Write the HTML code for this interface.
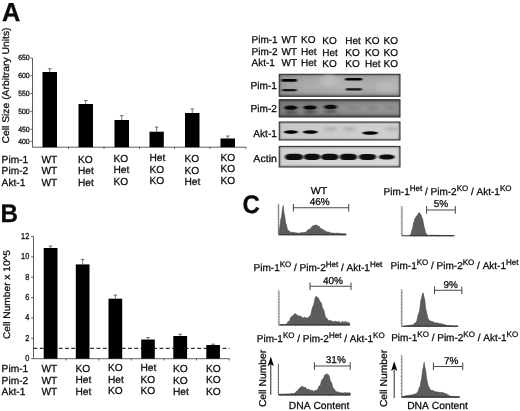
<!DOCTYPE html>
<html><head><meta charset="utf-8"><title>Figure</title>
<style>html,body{margin:0;padding:0;background:#fff}svg{display:block}text{font-family:"Liberation Sans",Arial,sans-serif;fill:#0a0a0a;stroke:#0a0a0a;stroke-width:0.26px;font-kerning:none;text-rendering:geometricPrecision}</style>
</head><body>
<svg width="520" height="411" viewBox="0 0 520 411">
<defs>
<filter id="b1" x="-20%" y="-100%" width="140%" height="300%"><feGaussianBlur stdDeviation="0.9 0.6"/></filter>
<filter id="b2" x="-20%" y="-100%" width="140%" height="300%"><feGaussianBlur stdDeviation="1.4 1.1"/></filter>
<filter id="b3" x="-20%" y="-100%" width="140%" height="300%"><feGaussianBlur stdDeviation="2.2 1.6"/></filter>
<filter id="soft"><feGaussianBlur stdDeviation="0.35"/></filter>
<linearGradient id="g1" x1="0" x2="1" y1="0" y2="0"><stop offset="0" stop-color="#959595"/><stop offset="0.2" stop-color="#a6a6a6"/><stop offset="0.5" stop-color="#b2b2b2"/><stop offset="0.75" stop-color="#aaaaaa"/><stop offset="1" stop-color="#b4b4b4"/></linearGradient>
<linearGradient id="g2" x1="0" x2="1" y1="0" y2="0"><stop offset="0" stop-color="#808080"/><stop offset="0.5" stop-color="#8c8c8c"/><stop offset="1" stop-color="#949494"/></linearGradient>
<linearGradient id="g3" x1="0" x2="1" y1="0" y2="0"><stop offset="0" stop-color="#cdcdcd"/><stop offset="0.5" stop-color="#d0d0d0"/><stop offset="1" stop-color="#d4d4d4"/></linearGradient>
<linearGradient id="g4" x1="0" x2="1" y1="0" y2="0"><stop offset="0" stop-color="#d6d6d6"/><stop offset="0.5" stop-color="#dadada"/><stop offset="1" stop-color="#dcdcdc"/></linearGradient>
<filter id="b1b" x="-20%" y="-100%" width="140%" height="300%"><feGaussianBlur stdDeviation="1.1 0.8"/></filter>
<linearGradient id="v1" x1="0" x2="0" y1="0" y2="1"><stop offset="0" stop-color="#333" stop-opacity="0.45"/><stop offset="0.12" stop-color="#555" stop-opacity="0.1"/><stop offset="0.5" stop-color="#fff" stop-opacity="0.05"/><stop offset="0.85" stop-color="#555" stop-opacity="0.12"/><stop offset="1" stop-color="#222" stop-opacity="0.5"/></linearGradient>
<linearGradient id="v2" x1="0" x2="0" y1="0" y2="1"><stop offset="0" stop-color="#111" stop-opacity="0.6"/><stop offset="0.18" stop-color="#333" stop-opacity="0.12"/><stop offset="0.5" stop-color="#fff" stop-opacity="0.03"/><stop offset="0.82" stop-color="#333" stop-opacity="0.15"/><stop offset="1" stop-color="#111" stop-opacity="0.6"/></linearGradient>
<linearGradient id="v3" x1="0" x2="0" y1="0" y2="1"><stop offset="0" stop-color="#444" stop-opacity="0.5"/><stop offset="0.14" stop-color="#777" stop-opacity="0.05"/><stop offset="0.86" stop-color="#777" stop-opacity="0.05"/><stop offset="1" stop-color="#444" stop-opacity="0.5"/></linearGradient>
<linearGradient id="hz" x1="0" x2="1" y1="0" y2="0"><stop offset="0" stop-color="#333" stop-opacity="0.45"/><stop offset="0.025" stop-color="#555" stop-opacity="0"/><stop offset="0.975" stop-color="#555" stop-opacity="0"/><stop offset="1" stop-color="#333" stop-opacity="0.45"/></linearGradient>
</defs>
<rect width="520" height="411" fill="#fff"/>
<text transform="translate(1.9,20.9) scale(0.975,1)" font-size="26" font-weight="bold" fill="#000" stroke="#000" stroke-width="0.5">A</text>
<text transform="translate(0.5,222.4) scale(0.945,1)" font-size="25.6" font-weight="bold" fill="#000" stroke="#000" stroke-width="0.5">B</text>
<text transform="translate(242.5,213.1) scale(0.95,1)" font-size="25.3" font-weight="bold" fill="#000" stroke="#000" stroke-width="0.5">C</text>
<g id="panelA">
<text transform="translate(9.1,143.5) rotate(-90) scale(1.067,1)" font-size="9.7">Cell Size (Arbitrary Units)</text>
<path d="M32.5 58V147.2H246" fill="none" stroke="#2a2a2a" stroke-width="0.75"/>
<path d="M30.3 58H32.5" stroke="#222" stroke-width="0.7"/>
<text transform="translate(29.7,60.3) scale(0.92,1)" font-size="7.5" text-anchor="end" fill="#222">650</text>
<path d="M30.3 75.7H32.5" stroke="#222" stroke-width="0.7"/>
<text transform="translate(29.7,78.0) scale(0.92,1)" font-size="7.5" text-anchor="end" fill="#222">600</text>
<path d="M30.3 93.5H32.5" stroke="#222" stroke-width="0.7"/>
<text transform="translate(29.7,95.8) scale(0.92,1)" font-size="7.5" text-anchor="end" fill="#222">550</text>
<path d="M30.3 111.3H32.5" stroke="#222" stroke-width="0.7"/>
<text transform="translate(29.7,113.6) scale(0.92,1)" font-size="7.5" text-anchor="end" fill="#222">500</text>
<path d="M30.3 129.2H32.5" stroke="#222" stroke-width="0.7"/>
<text transform="translate(29.7,131.5) scale(0.92,1)" font-size="7.5" text-anchor="end" fill="#222">450</text>
<path d="M30.3 141.3H32.5" stroke="#222" stroke-width="0.7"/>
<text transform="translate(29.7,143.6) scale(0.92,1)" font-size="7.5" text-anchor="end" fill="#222">400</text>
<path d="M68.5 147.2v1.8" stroke="#222" stroke-width="0.7"/>
<path d="M104 147.2v1.8" stroke="#222" stroke-width="0.7"/>
<path d="M139.5 147.2v1.8" stroke="#222" stroke-width="0.7"/>
<path d="M174.5 147.2v1.8" stroke="#222" stroke-width="0.7"/>
<path d="M210 147.2v1.8" stroke="#222" stroke-width="0.7"/>
<path d="M246 147.2v1.8" stroke="#222" stroke-width="0.7"/>
<rect x="42.5" y="72" width="14.5" height="75.19999999999999" fill="#000"/>
<path d="M49.75 72V68.7M47.95 68.7H51.55" stroke="#444" stroke-width="0.75" fill="none"/>
<rect x="78.5" y="104" width="14.5" height="43.19999999999999" fill="#000"/>
<path d="M85.75 104V100.5M83.95 100.5H87.55" stroke="#444" stroke-width="0.75" fill="none"/>
<rect x="114.5" y="120" width="14.5" height="27.19999999999999" fill="#000"/>
<path d="M121.75 120V115.7M119.95 115.7H123.55" stroke="#444" stroke-width="0.75" fill="none"/>
<rect x="149.5" y="131.7" width="14.300000000000011" height="15.5" fill="#000"/>
<path d="M156.65 131.7V127M154.85 127H158.45000000000002" stroke="#444" stroke-width="0.75" fill="none"/>
<rect x="185" y="113" width="14.5" height="34.19999999999999" fill="#000"/>
<path d="M192.25 113V109M190.45 109H194.05" stroke="#444" stroke-width="0.75" fill="none"/>
<rect x="220.5" y="138.5" width="14.5" height="8.699999999999989" fill="#000"/>
<path d="M227.75 138.5V136M225.95 136H229.55" stroke="#444" stroke-width="0.75" fill="none"/>
</g>
<g id="labelsA">
<text x="1.6" y="162.5" font-size="10.2">Pim-1</text>
<text x="1.6" y="174" font-size="10.2">Pim-2</text>
<text x="1.6" y="185.6" font-size="10.2">Akt-1</text>
<text x="41.5" y="162.5" font-size="10.2">WT</text>
<text x="41.5" y="174" font-size="10.2">WT</text>
<text x="41.5" y="185.6" font-size="10.2">WT</text>
<text x="78" y="162.5" font-size="10.2">KO</text>
<text x="78" y="174" font-size="10.2">Het</text>
<text x="78" y="185.6" font-size="10.2">Het</text>
<text x="113.5" y="161.5" font-size="10.2">KO</text>
<text x="113.5" y="173" font-size="10.2">Het</text>
<text x="113.5" y="184.6" font-size="10.2">KO</text>
<text x="149.5" y="161.0" font-size="10.2">Het</text>
<text x="149.5" y="172.5" font-size="10.2">KO</text>
<text x="149.5" y="184.1" font-size="10.2">KO</text>
<text x="184.5" y="162.0" font-size="10.2">KO</text>
<text x="184.5" y="173.5" font-size="10.2">KO</text>
<text x="184.5" y="185.1" font-size="10.2">Het</text>
<text x="220.5" y="160.5" font-size="10.2">KO</text>
<text x="220.5" y="172" font-size="10.2">KO</text>
<text x="220.5" y="183.6" font-size="10.2">KO</text>
</g>
<g id="panelB">
<text transform="translate(10.1,339) rotate(-90) scale(1.06,1)" font-size="9.6">Cell Number x 10^5</text>
<path d="M33.5 236.5V358.7H229.5" fill="none" stroke="#2a2a2a" stroke-width="0.75"/>
<path d="M31.1 236.5H33.5" stroke="#222" stroke-width="0.7"/>
<text transform="translate(29.3,238.9) scale(0.86,1)" font-size="8.6" text-anchor="end" fill="#222">12</text>
<path d="M31.1 256.8666666666667H33.5" stroke="#222" stroke-width="0.7"/>
<text transform="translate(29.3,259.3) scale(0.86,1)" font-size="8.6" text-anchor="end" fill="#222">10</text>
<path d="M31.1 277.23333333333335H33.5" stroke="#222" stroke-width="0.7"/>
<text transform="translate(29.3,279.6) scale(0.86,1)" font-size="8.6" text-anchor="end" fill="#222">8</text>
<path d="M31.1 297.6H33.5" stroke="#222" stroke-width="0.7"/>
<text transform="translate(29.3,300.0) scale(0.86,1)" font-size="8.6" text-anchor="end" fill="#222">6</text>
<path d="M31.1 317.96666666666664H33.5" stroke="#222" stroke-width="0.7"/>
<text transform="translate(29.3,320.4) scale(0.86,1)" font-size="8.6" text-anchor="end" fill="#222">4</text>
<path d="M31.1 338.3333333333333H33.5" stroke="#222" stroke-width="0.7"/>
<text transform="translate(29.3,340.7) scale(0.86,1)" font-size="8.6" text-anchor="end" fill="#222">2</text>
<path d="M31.1 358.7H33.5" stroke="#222" stroke-width="0.7"/>
<text transform="translate(29.3,361.1) scale(0.86,1)" font-size="8.6" text-anchor="end" fill="#222">0</text>
<path d="M66.2 358.7v1.8" stroke="#222" stroke-width="0.7"/>
<path d="M98.8 358.7v1.8" stroke="#222" stroke-width="0.7"/>
<path d="M131.3 358.7v1.8" stroke="#222" stroke-width="0.7"/>
<path d="M164 358.7v1.8" stroke="#222" stroke-width="0.7"/>
<path d="M196.5 358.7v1.8" stroke="#222" stroke-width="0.7"/>
<path d="M229.3 358.7v1.8" stroke="#222" stroke-width="0.7"/>
<rect x="43.7" y="248" width="13.8" height="110.7" fill="#000"/>
<path d="M50.6 248V246M48.800000000000004 246H52.4" stroke="#444" stroke-width="0.75" fill="none"/>
<rect x="75.8" y="264.4" width="13.7" height="94.3" fill="#000"/>
<path d="M82.65 264.4V259.4M80.85000000000001 259.4H84.45" stroke="#444" stroke-width="0.75" fill="none"/>
<rect x="108.5" y="298.7" width="13.7" height="60.0" fill="#000"/>
<path d="M115.35 298.7V295M113.55 295H117.14999999999999" stroke="#444" stroke-width="0.75" fill="none"/>
<rect x="141.2" y="339.5" width="13.6" height="19.2" fill="#000"/>
<path d="M148.0 339.5V337.5M146.2 337.5H149.8" stroke="#444" stroke-width="0.75" fill="none"/>
<rect x="173.3" y="336" width="13.8" height="22.7" fill="#000"/>
<path d="M180.2 336V334.2M178.39999999999998 334.2H182.0" stroke="#444" stroke-width="0.75" fill="none"/>
<rect x="206.3" y="345" width="13.6" height="13.7" fill="#000"/>
<path d="M213.10000000000002 345V344.2M211.3 344.2H214.90000000000003" stroke="#444" stroke-width="0.75" fill="none"/>
<path d="M33.5 348.3H229.5" stroke="#000" stroke-width="1" stroke-dasharray="3.9 2.4" fill="none"/>
</g>
<g id="labelsB">
<text x="1.6" y="372" font-size="10.2">Pim-1</text>
<text x="1.6" y="383.6" font-size="10.2">Pim-2</text>
<text x="1.6" y="395.2" font-size="10.2">Akt-1</text>
<text x="41.5" y="372" font-size="10.2">WT</text>
<text x="41.5" y="383.6" font-size="10.2">WT</text>
<text x="41.5" y="395.2" font-size="10.2">WT</text>
<text x="75.5" y="371.5" font-size="10.2">KO</text>
<text x="75.5" y="383.1" font-size="10.2">Het</text>
<text x="75.5" y="394.7" font-size="10.2">Het</text>
<text x="108" y="371" font-size="10.2">KO</text>
<text x="108" y="382.6" font-size="10.2">Het</text>
<text x="108" y="394.2" font-size="10.2">KO</text>
<text x="140.5" y="371" font-size="10.2">Het</text>
<text x="140.5" y="382.6" font-size="10.2">KO</text>
<text x="140.5" y="394.2" font-size="10.2">KO</text>
<text x="173" y="372" font-size="10.2">KO</text>
<text x="173" y="383.6" font-size="10.2">KO</text>
<text x="173" y="395.2" font-size="10.2">Het</text>
<text x="206" y="371.5" font-size="10.2">KO</text>
<text x="206" y="383.1" font-size="10.2">KO</text>
<text x="206" y="394.7" font-size="10.2">KO</text>
</g>
<g id="blot">
<text x="251.5" y="42.8" font-size="10">Pim-1</text>
<text x="251.5" y="54.5" font-size="10">Pim-2</text>
<text x="251.5" y="65.8" font-size="10">Akt-1</text>
<text x="281.5" y="42.8" font-size="10">WT</text>
<text x="281.5" y="54.5" font-size="10">WT</text>
<text x="281.5" y="65.8" font-size="10">WT</text>
<text x="301" y="42.8" font-size="10">KO</text>
<text x="301" y="54.5" font-size="10">Het</text>
<text x="301" y="65.8" font-size="10">Het</text>
<text x="322.3" y="44.3" font-size="10">KO</text>
<text x="322.3" y="56.0" font-size="10">Het</text>
<text x="322.3" y="67.3" font-size="10">KO</text>
<text x="345.3" y="44.1" font-size="10">Het</text>
<text x="345.3" y="55.8" font-size="10">KO</text>
<text x="345.3" y="67.1" font-size="10">KO</text>
<text x="365" y="44.1" font-size="10">KO</text>
<text x="365" y="55.8" font-size="10">KO</text>
<text x="365" y="67.1" font-size="10">Het</text>
<text x="383.6" y="44.1" font-size="10">KO</text>
<text x="383.6" y="55.8" font-size="10">KO</text>
<text x="383.6" y="67.1" font-size="10">KO</text>
<rect x="279.2" y="74.3" width="120.8" height="22.0" fill="url(#g1)"/>
<rect x="279.2" y="74.3" width="120.8" height="22.0" fill="url(#v1)"/>
<rect x="279.2" y="74.3" width="120.8" height="22.0" fill="url(#hz)"/>
<rect x="279.2" y="74.3" width="120.8" height="22.0" fill="none" stroke="#2a2a2a" stroke-width="1"/>
<text transform="translate(276.9,89.1) scale(1.0,1)" font-size="10.1" text-anchor="end">Pim-1</text>
<rect x="279.2" y="99.7" width="120.8" height="17.3" fill="url(#g2)"/>
<rect x="279.2" y="99.7" width="120.8" height="17.3" fill="url(#v2)"/>
<rect x="279.2" y="99.7" width="120.8" height="17.3" fill="url(#hz)"/>
<rect x="279.2" y="99.7" width="120.8" height="17.3" fill="none" stroke="#2a2a2a" stroke-width="1"/>
<text transform="translate(276.9,112.0) scale(1.0,1)" font-size="10.1" text-anchor="end">Pim-2</text>
<rect x="279.2" y="122" width="120.8" height="18.0" fill="url(#g3)"/>
<rect x="279.2" y="122" width="120.8" height="18.0" fill="url(#v3)"/>
<rect x="279.2" y="122" width="120.8" height="18.0" fill="url(#hz)"/>
<rect x="279.2" y="122" width="120.8" height="18.0" fill="none" stroke="#2a2a2a" stroke-width="1"/>
<text transform="translate(276.9,136.7) scale(1.0,1)" font-size="10.1" text-anchor="end">Akt-1</text>
<rect x="279.2" y="146.4" width="120.8" height="20.6" fill="url(#g4)"/>
<rect x="279.2" y="146.4" width="120.8" height="20.6" fill="url(#v3)"/>
<rect x="279.2" y="146.4" width="120.8" height="20.6" fill="url(#hz)"/>
<rect x="279.2" y="146.4" width="120.8" height="20.6" fill="none" stroke="#2a2a2a" stroke-width="1"/>
<text transform="translate(276.9,161.8) scale(1.05,1)" font-size="10.1" text-anchor="end">Actin</text>
<ellipse cx="329" cy="80" rx="8" ry="6" fill="#c4c4c4" opacity="0.6" filter="url(#b3)"/>
<ellipse cx="385" cy="88" rx="9" ry="5" fill="#c0c0c0" opacity="0.5" filter="url(#b3)"/>
<rect x="281.45" y="79.10000000000001" width="15.5" height="2.6" rx="1.3" fill="#050505" filter="url(#b1)"/>
<rect x="282.15" y="89.05" width="14.5" height="2.3" rx="1.1" fill="#141414" filter="url(#b1)"/>
<rect x="345.2" y="77.9" width="17" height="2.6" rx="1.3" fill="#050505" filter="url(#b1)"/>
<rect x="345.9" y="88.25" width="16" height="2.3" rx="1.1" fill="#141414" filter="url(#b1)"/>
<ellipse cx="290.8" cy="107.7" rx="8.5" ry="3.4" fill="#444" opacity="0.4" filter="url(#b3)"/>
<ellipse cx="290.8" cy="107.7" rx="6.6" ry="2.1" fill="#000" opacity="0.95" filter="url(#b1)"/>
<ellipse cx="290.8" cy="112.3" rx="6.5" ry="1.3" fill="#222" opacity="0.57" filter="url(#b2)"/>
<ellipse cx="310" cy="107.5" rx="8.5" ry="3.4" fill="#444" opacity="0.4" filter="url(#b3)"/>
<ellipse cx="310" cy="107.5" rx="6.6" ry="2.1" fill="#000" opacity="1" filter="url(#b1)"/>
<ellipse cx="310" cy="112.1" rx="6.5" ry="1.3" fill="#222" opacity="0.60" filter="url(#b2)"/>
<ellipse cx="330.5" cy="106.9" rx="8.5" ry="3.4" fill="#444" opacity="0.4" filter="url(#b3)"/>
<ellipse cx="330.5" cy="106.9" rx="6.6" ry="2.1" fill="#000" opacity="0.9" filter="url(#b1)"/>
<ellipse cx="330.5" cy="111.5" rx="6.5" ry="1.3" fill="#222" opacity="0.54" filter="url(#b2)"/>
<ellipse cx="353" cy="108" rx="6" ry="1.6" fill="#555" opacity="0.3" filter="url(#b3)"/>
<ellipse cx="372.5" cy="108" rx="6" ry="1.6" fill="#555" opacity="0.3" filter="url(#b3)"/>
<ellipse cx="391" cy="108" rx="6" ry="1.6" fill="#555" opacity="0.3" filter="url(#b3)"/>
<ellipse cx="290.9" cy="132" rx="7" ry="1.7" fill="#050505" filter="url(#b1)"/>
<ellipse cx="310.3" cy="132" rx="7.4" ry="1.7" fill="#050505" filter="url(#b1)"/>
<ellipse cx="370.2" cy="133" rx="7.8" ry="1.7" fill="#050505" filter="url(#b1)"/>
<ellipse cx="331" cy="129" rx="6.5" ry="1.8" fill="#888" opacity="0.45" filter="url(#b3)"/>
<ellipse cx="349.5" cy="129" rx="6.5" ry="1.8" fill="#888" opacity="0.45" filter="url(#b3)"/>
<ellipse cx="392" cy="129" rx="6.5" ry="1.8" fill="#888" opacity="0.45" filter="url(#b3)"/>
<rect x="284.8" y="153.70" width="18.4" height="6.4" rx="5.5" ry="3.2" fill="#080808" filter="url(#b1)"/>
<rect x="303.6" y="153.80" width="17.0" height="6.2" rx="5.5" ry="3.1" fill="#080808" filter="url(#b1)"/>
<rect x="321" y="153.70" width="17.6" height="6.4" rx="5.5" ry="3.2" fill="#080808" filter="url(#b1)"/>
<rect x="339.6" y="153.70" width="17.6" height="6.4" rx="5.5" ry="3.2" fill="#080808" filter="url(#b1)"/>
<rect x="358.8" y="153.90" width="17.4" height="6.0" rx="5.5" ry="3.0" fill="#080808" filter="url(#b1)"/>
<rect x="378.8" y="154.40" width="15.8" height="5.0" rx="5.5" ry="2.5" fill="#080808" filter="url(#b1)"/>
</g>
<g id="panelC">
<text transform="translate(319,193.6) scale(1.06,1)" font-size="10" text-anchor="middle">WT</text>
<path d="M293.4 203.89999999999998V211.5M348.7 203.89999999999998V211.5M293.4 207.7H348.7" stroke="#4a4a4a" stroke-width="1.05" fill="none"/>
<text x="319.7" y="204.5" font-size="10" text-anchor="middle">46%</text>
<path d="M279.2 234.8 L279.2 231.2 L280.0 225.6 L280.8 219.3 L281.6 216.4 L282.4 209.2 L283.2 205.4 L284.0 212.9 L284.8 216.4 L285.6 222.9 L286.4 224.7 L287.2 228.5 L288.0 230.7 L288.8 230.7 L289.6 231.1 L290.4 232.4 L291.2 232.5 L292.0 232.2 L292.8 232.1 L293.6 232.5 L294.4 232.7 L295.2 232.4 L296.0 233.2 L296.8 232.7 L297.6 233.1 L298.4 233.2 L299.2 233.2 L300.0 233.0 L300.8 232.6 L301.6 232.9 L302.4 232.5 L303.2 232.4 L304.0 232.6 L304.8 232.3 L305.6 232.2 L306.4 231.5 L307.2 230.7 L308.0 229.6 L308.8 229.6 L309.6 229.5 L310.4 228.4 L311.2 227.5 L312.0 226.7 L312.8 225.7 L313.6 225.7 L314.4 225.7 L315.2 225.0 L316.0 225.1 L316.8 225.2 L317.6 225.7 L318.4 226.3 L319.2 226.2 L320.0 227.9 L320.8 228.4 L321.6 228.7 L322.4 229.4 L323.2 229.4 L324.0 230.5 L324.8 230.6 L325.6 231.2 L326.4 231.8 L327.2 231.7 L328.0 232.3 L328.8 232.1 L329.6 232.4 L330.4 232.7 L331.2 233.0 L332.0 232.9 L332.8 233.0 L333.6 233.2 L334.4 233.1 L335.2 233.5 L336.0 233.2 L336.8 233.2 L337.6 233.1 L338.4 233.2 L339.2 233.5 L340.0 233.5 L340.8 233.4 L341.6 233.7 L342.4 233.5 L343.2 233.7 L344.0 233.7 L344.8 233.8 L345.6 233.5 L346.0 234.8Z" fill="#5c5c5c" stroke="#3a3a3a" stroke-width="0.5" stroke-linejoin="round"/>
<path d="M278.7 204.2V234.8" stroke="#505050" stroke-width="0.8" fill="none"/>
<path d="M278.3 234.8H346.3" stroke="#2e2e2e" stroke-width="1.1" fill="none"/>
<path d="M277.3 204.2h1.4" stroke="#555" stroke-width="0.45"/>
<path d="M277.3 206.8h1.4" stroke="#555" stroke-width="0.45"/>
<path d="M277.3 209.3h1.4" stroke="#555" stroke-width="0.45"/>
<path d="M277.3 211.8h1.4" stroke="#555" stroke-width="0.45"/>
<path d="M277.3 214.4h1.4" stroke="#555" stroke-width="0.45"/>
<path d="M277.3 216.9h1.4" stroke="#555" stroke-width="0.45"/>
<path d="M277.3 219.5h1.4" stroke="#555" stroke-width="0.45"/>
<path d="M277.3 222.1h1.4" stroke="#555" stroke-width="0.45"/>
<path d="M277.3 224.6h1.4" stroke="#555" stroke-width="0.45"/>
<path d="M277.3 227.2h1.4" stroke="#555" stroke-width="0.45"/>
<path d="M277.3 229.7h1.4" stroke="#555" stroke-width="0.45"/>
<path d="M277.3 232.2h1.4" stroke="#555" stroke-width="0.45"/>
<path d="M294.4 234.8v1.2" stroke="#555" stroke-width="0.5"/>
<path d="M310.1 234.8v1.2" stroke="#555" stroke-width="0.5"/>
<path d="M325.9 234.8v1.2" stroke="#555" stroke-width="0.5"/>
<path d="M341.6 234.8v1.2" stroke="#555" stroke-width="0.5"/>
<text x="383.6" y="195.1" font-size="10.0">Pim-1<tspan dy="-4.0" font-size="8.00">Het</tspan><tspan dy="4.0"> / Pim-2</tspan><tspan dy="-4.0" font-size="8.00">KO</tspan><tspan dy="4.0"> / Akt-1</tspan><tspan dy="-4.0" font-size="8.00">KO</tspan></text>
<path d="M426.6 206.1V213.70000000000002M455.3 206.1V213.70000000000002M426.6 209.9H455.3" stroke="#4a4a4a" stroke-width="1.05" fill="none"/>
<text x="441" y="206.8" font-size="10" text-anchor="middle">5%</text>
<path d="M409.5 235.8 L409.5 235.6 L410.3 234.8 L411.1 234.0 L411.9 229.9 L412.7 228.2 L413.5 223.1 L414.3 221.1 L415.1 218.2 L415.9 217.3 L416.7 215.8 L417.5 215.1 L418.3 213.8 L419.1 212.4 L419.9 213.2 L420.7 214.3 L421.5 216.5 L422.3 218.2 L423.1 221.4 L423.9 226.1 L424.7 228.9 L425.5 232.4 L426.3 233.8 L427.1 235.2 L427.9 235.2 L428.7 235.2 L429.5 235.2 L430.3 235.2 L431.1 235.2 L431.9 235.2 L432.7 235.2 L433.5 235.2 L434.3 235.3 L435.1 235.2 L435.9 235.2 L436.7 235.2 L437.5 235.3 L438.3 235.3 L439.1 235.3 L439.9 235.4 L440.7 235.3 L441.5 235.4 L442.3 235.4 L443.1 235.4 L443.9 235.4 L444.7 235.4 L445.5 235.5 L446.3 235.5 L447.1 235.5 L447.9 235.5 L448.7 235.5 L449.5 235.5 L450.3 235.5 L451.1 235.5 L451.9 235.5 L452.7 235.5 L453.5 235.5 L454.0 235.8Z" fill="#5c5c5c" stroke="#3a3a3a" stroke-width="0.5" stroke-linejoin="round"/>
<path d="M402 206.5V235.8" stroke="#505050" stroke-width="0.8" fill="none"/>
<path d="M401.6 235.8H454.5" stroke="#2e2e2e" stroke-width="1.1" fill="none"/>
<path d="M400.6 206.5h1.4" stroke="#555" stroke-width="0.45"/>
<path d="M400.6 208.9h1.4" stroke="#555" stroke-width="0.45"/>
<path d="M400.6 211.4h1.4" stroke="#555" stroke-width="0.45"/>
<path d="M400.6 213.8h1.4" stroke="#555" stroke-width="0.45"/>
<path d="M400.6 216.3h1.4" stroke="#555" stroke-width="0.45"/>
<path d="M400.6 218.7h1.4" stroke="#555" stroke-width="0.45"/>
<path d="M400.6 221.2h1.4" stroke="#555" stroke-width="0.45"/>
<path d="M400.6 223.6h1.4" stroke="#555" stroke-width="0.45"/>
<path d="M400.6 226.0h1.4" stroke="#555" stroke-width="0.45"/>
<path d="M400.6 228.5h1.4" stroke="#555" stroke-width="0.45"/>
<path d="M400.6 230.9h1.4" stroke="#555" stroke-width="0.45"/>
<path d="M400.6 233.4h1.4" stroke="#555" stroke-width="0.45"/>
<path d="M414.2 235.8v1.2" stroke="#555" stroke-width="0.5"/>
<path d="M426.4 235.8v1.2" stroke="#555" stroke-width="0.5"/>
<path d="M438.6 235.8v1.2" stroke="#555" stroke-width="0.5"/>
<path d="M450.8 235.8v1.2" stroke="#555" stroke-width="0.5"/>
<text x="253.6" y="270.6" font-size="10.0">Pim-1<tspan dy="-4.0" font-size="8.00">KO</tspan><tspan dy="4.0"> / Pim-2</tspan><tspan dy="-4.0" font-size="8.00">Het</tspan><tspan dy="4.0"> / Akt-1</tspan><tspan dy="-4.0" font-size="8.00">Het</tspan></text>
<path d="M310 282.5V290.1M351 282.5V290.1M310 286.3H351" stroke="#4a4a4a" stroke-width="1.05" fill="none"/>
<text x="333" y="284.3" font-size="10" text-anchor="middle">40%</text>
<path d="M280.0 325.0 L280.0 324.6 L280.8 324.7 L281.6 324.5 L282.4 324.4 L283.2 324.4 L284.0 324.4 L284.8 324.5 L285.6 324.4 L286.4 324.2 L287.2 323.3 L288.0 321.4 L288.8 321.5 L289.6 321.1 L290.4 318.1 L291.2 316.8 L292.0 316.5 L292.8 315.5 L293.6 315.3 L294.4 314.0 L295.2 313.5 L296.0 314.1 L296.8 314.8 L297.6 315.8 L298.4 315.7 L299.2 316.3 L300.0 315.8 L300.8 316.6 L301.6 316.7 L302.4 317.7 L303.2 317.9 L304.0 317.2 L304.8 317.2 L305.6 317.7 L306.4 318.0 L307.2 318.0 L308.0 317.5 L308.8 317.3 L309.6 316.1 L310.4 315.7 L311.2 313.1 L312.0 309.3 L312.8 306.4 L313.6 305.3 L314.4 301.5 L315.2 297.5 L316.0 296.6 L316.8 296.6 L317.6 297.6 L318.4 298.0 L319.2 299.9 L320.0 301.5 L320.8 302.3 L321.6 303.9 L322.4 307.9 L323.2 308.9 L324.0 310.8 L324.8 314.4 L325.6 317.6 L326.4 317.9 L327.2 318.6 L328.0 320.7 L328.8 320.5 L329.6 320.2 L330.4 320.5 L331.2 320.7 L332.0 321.2 L332.8 321.8 L333.6 321.1 L334.4 321.9 L335.2 321.3 L336.0 321.1 L336.8 322.0 L337.6 322.0 L338.4 321.2 L339.2 321.6 L340.0 322.4 L340.8 322.5 L341.6 322.4 L342.4 321.4 L343.2 321.6 L344.0 322.5 L344.8 321.6 L345.6 321.4 L346.4 321.9 L347.2 322.4 L348.0 322.2 L348.8 322.7 L349.6 322.9 L349.8 325.0Z" fill="#5c5c5c" stroke="#3a3a3a" stroke-width="0.5" stroke-linejoin="round"/>
<path d="M279 290.8V325" stroke="#505050" stroke-width="0.8" fill="none"/>
<path d="M278.6 325H350" stroke="#2e2e2e" stroke-width="1.1" fill="none"/>
<path d="M277.6 290.8h1.4" stroke="#555" stroke-width="0.45"/>
<path d="M277.6 293.7h1.4" stroke="#555" stroke-width="0.45"/>
<path d="M277.6 296.5h1.4" stroke="#555" stroke-width="0.45"/>
<path d="M277.6 299.4h1.4" stroke="#555" stroke-width="0.45"/>
<path d="M277.6 302.2h1.4" stroke="#555" stroke-width="0.45"/>
<path d="M277.6 305.1h1.4" stroke="#555" stroke-width="0.45"/>
<path d="M277.6 307.9h1.4" stroke="#555" stroke-width="0.45"/>
<path d="M277.6 310.8h1.4" stroke="#555" stroke-width="0.45"/>
<path d="M277.6 313.6h1.4" stroke="#555" stroke-width="0.45"/>
<path d="M277.6 316.4h1.4" stroke="#555" stroke-width="0.45"/>
<path d="M277.6 319.3h1.4" stroke="#555" stroke-width="0.45"/>
<path d="M277.6 322.1h1.4" stroke="#555" stroke-width="0.45"/>
<path d="M295.5 325v1.2" stroke="#555" stroke-width="0.5"/>
<path d="M312.0 325v1.2" stroke="#555" stroke-width="0.5"/>
<path d="M328.5 325v1.2" stroke="#555" stroke-width="0.5"/>
<path d="M345.0 325v1.2" stroke="#555" stroke-width="0.5"/>
<text x="390.6" y="268.8" font-size="10.0">Pim-1<tspan dy="-4.0" font-size="8.00">KO</tspan><tspan dy="4.0"> / Pim-2</tspan><tspan dy="-4.0" font-size="8.00">KO</tspan><tspan dy="4.0"> / Akt-1</tspan><tspan dy="-4.0" font-size="8.00">Het</tspan></text>
<path d="M434.5 286.4V294.0M461.8 286.4V294.0M434.5 290.2H461.8" stroke="#4a4a4a" stroke-width="1.05" fill="none"/>
<text x="450.8" y="287.6" font-size="10" text-anchor="middle">9%</text>
<path d="M404.0 326.2 L404.0 326.0 L404.8 326.0 L405.6 325.9 L406.4 325.7 L407.2 325.7 L408.0 325.4 L408.8 325.3 L409.6 325.3 L410.4 325.2 L411.2 325.1 L412.0 325.1 L412.8 324.7 L413.6 324.3 L414.4 323.4 L415.2 323.1 L416.0 322.1 L416.8 321.0 L417.6 317.3 L418.4 313.9 L419.2 312.4 L420.0 307.8 L420.8 300.5 L421.6 297.9 L422.4 293.9 L423.2 292.8 L424.0 296.9 L424.8 299.8 L425.6 308.5 L426.4 311.3 L427.2 315.2 L428.0 318.8 L428.8 319.4 L429.6 320.5 L430.4 321.0 L431.2 321.3 L432.0 321.5 L432.8 321.8 L433.6 321.9 L434.4 322.8 L435.2 322.7 L436.0 323.0 L436.8 323.1 L437.6 322.8 L438.4 323.2 L439.2 323.4 L440.0 323.5 L440.8 323.6 L441.6 324.0 L442.4 323.9 L443.2 324.2 L444.0 324.4 L444.8 324.6 L445.6 325.1 L446.4 325.3 L447.2 325.5 L448.0 325.5 L448.8 325.6 L449.6 325.6 L450.4 325.6 L451.2 325.7 L452.0 325.7 L452.8 325.7 L453.6 325.7 L454.4 325.9 L455.2 325.9 L456.0 325.9 L456.8 325.9 L457.6 325.9 L458.0 326.2Z" fill="#5c5c5c" stroke="#3a3a3a" stroke-width="0.5" stroke-linejoin="round"/>
<path d="M401.8 289.9V326.2" stroke="#505050" stroke-width="0.8" fill="none"/>
<path d="M401.40000000000003 326.2H458.3" stroke="#2e2e2e" stroke-width="1.1" fill="none"/>
<path d="M400.40000000000003 289.9h1.4" stroke="#555" stroke-width="0.45"/>
<path d="M400.40000000000003 292.9h1.4" stroke="#555" stroke-width="0.45"/>
<path d="M400.40000000000003 295.9h1.4" stroke="#555" stroke-width="0.45"/>
<path d="M400.40000000000003 299.0h1.4" stroke="#555" stroke-width="0.45"/>
<path d="M400.40000000000003 302.0h1.4" stroke="#555" stroke-width="0.45"/>
<path d="M400.40000000000003 305.0h1.4" stroke="#555" stroke-width="0.45"/>
<path d="M400.40000000000003 308.0h1.4" stroke="#555" stroke-width="0.45"/>
<path d="M400.40000000000003 311.1h1.4" stroke="#555" stroke-width="0.45"/>
<path d="M400.40000000000003 314.1h1.4" stroke="#555" stroke-width="0.45"/>
<path d="M400.40000000000003 317.1h1.4" stroke="#555" stroke-width="0.45"/>
<path d="M400.40000000000003 320.1h1.4" stroke="#555" stroke-width="0.45"/>
<path d="M400.40000000000003 323.2h1.4" stroke="#555" stroke-width="0.45"/>
<path d="M414.9 326.2v1.2" stroke="#555" stroke-width="0.5"/>
<path d="M428.1 326.2v1.2" stroke="#555" stroke-width="0.5"/>
<path d="M441.2 326.2v1.2" stroke="#555" stroke-width="0.5"/>
<path d="M454.4 326.2v1.2" stroke="#555" stroke-width="0.5"/>
<text x="256.8" y="341.7" font-size="10.0">Pim-1<tspan dy="-4.0" font-size="8.00">KO</tspan><tspan dy="4.0"> / Pim-2</tspan><tspan dy="-4.0" font-size="8.00">Het</tspan><tspan dy="4.0"> / Akt-1</tspan><tspan dy="-4.0" font-size="8.00">KO</tspan></text>
<path d="M314.4 362.2V369.8M350.2 362.2V369.8M314.4 366H350.2" stroke="#4a4a4a" stroke-width="1.05" fill="none"/>
<text x="335.8" y="363" font-size="10" text-anchor="middle">31%</text>
<path d="M279.0 395.0 L279.0 394.4 L279.8 394.2 L280.6 394.2 L281.4 394.1 L282.2 394.3 L283.0 394.1 L283.8 394.1 L284.6 394.2 L285.4 393.9 L286.2 393.9 L287.0 394.1 L287.8 393.8 L288.6 394.0 L289.4 393.9 L290.2 393.6 L291.0 393.6 L291.8 393.8 L292.6 393.6 L293.4 393.5 L294.2 393.6 L295.0 393.1 L295.8 392.1 L296.6 390.9 L297.4 391.4 L298.2 389.7 L299.0 388.5 L299.8 388.1 L300.6 387.4 L301.4 386.4 L302.2 386.3 L303.0 387.2 L303.8 386.7 L304.6 387.4 L305.4 387.3 L306.2 388.6 L307.0 388.9 L307.8 389.7 L308.6 389.1 L309.4 389.8 L310.2 390.3 L311.0 390.3 L311.8 390.2 L312.6 390.6 L313.4 391.3 L314.2 391.3 L315.0 390.2 L315.8 390.5 L316.6 390.2 L317.4 390.0 L318.2 388.3 L319.0 386.1 L319.8 385.9 L320.6 384.5 L321.4 381.0 L322.2 379.5 L323.0 378.7 L323.8 377.6 L324.6 374.9 L325.4 375.4 L326.2 373.8 L327.0 373.9 L327.8 374.5 L328.6 374.9 L329.4 376.3 L330.2 380.6 L331.0 381.8 L331.8 383.6 L332.6 386.7 L333.4 388.4 L334.2 388.9 L335.0 390.3 L335.8 391.4 L336.6 391.7 L337.4 391.9 L338.2 391.7 L339.0 392.5 L339.8 392.5 L340.6 392.8 L341.4 392.7 L342.2 393.0 L343.0 392.8 L343.8 393.1 L344.6 392.5 L345.4 392.7 L346.2 393.0 L347.0 392.8 L347.8 392.5 L348.6 393.2 L349.4 392.6 L350.2 393.0 L350.3 395.0Z" fill="#5c5c5c" stroke="#3a3a3a" stroke-width="0.5" stroke-linejoin="round"/>
<path d="M278.5 364.2V395" stroke="#505050" stroke-width="0.8" fill="none"/>
<path d="M278.1 395H350.5" stroke="#2e2e2e" stroke-width="1.1" fill="none"/>
<path d="M277.1 364.2h1.4" stroke="#555" stroke-width="0.45"/>
<path d="M277.1 366.8h1.4" stroke="#555" stroke-width="0.45"/>
<path d="M277.1 369.3h1.4" stroke="#555" stroke-width="0.45"/>
<path d="M277.1 371.9h1.4" stroke="#555" stroke-width="0.45"/>
<path d="M277.1 374.5h1.4" stroke="#555" stroke-width="0.45"/>
<path d="M277.1 377.0h1.4" stroke="#555" stroke-width="0.45"/>
<path d="M277.1 379.6h1.4" stroke="#555" stroke-width="0.45"/>
<path d="M277.1 382.2h1.4" stroke="#555" stroke-width="0.45"/>
<path d="M277.1 384.7h1.4" stroke="#555" stroke-width="0.45"/>
<path d="M277.1 387.3h1.4" stroke="#555" stroke-width="0.45"/>
<path d="M277.1 389.9h1.4" stroke="#555" stroke-width="0.45"/>
<path d="M277.1 392.4h1.4" stroke="#555" stroke-width="0.45"/>
<path d="M295.2 395v1.2" stroke="#555" stroke-width="0.5"/>
<path d="M312.0 395v1.2" stroke="#555" stroke-width="0.5"/>
<path d="M328.7 395v1.2" stroke="#555" stroke-width="0.5"/>
<path d="M345.5 395v1.2" stroke="#555" stroke-width="0.5"/>
<text x="391.2" y="341.4" font-size="10.0">Pim-1<tspan dy="-4.0" font-size="8.00">KO</tspan><tspan dy="4.0"> / Pim-2</tspan><tspan dy="-4.0" font-size="8.00">KO</tspan><tspan dy="4.0"> / Akt-1</tspan><tspan dy="-4.0" font-size="8.00">KO</tspan></text>
<path d="M433.4 362.59999999999997V370.2M462.7 362.59999999999997V370.2M433.4 366.4H462.7" stroke="#4a4a4a" stroke-width="1.05" fill="none"/>
<text x="451.2" y="363.6" font-size="10" text-anchor="middle">7%</text>
<path d="M402.5 397.1 L402.5 396.5 L403.3 396.4 L404.1 396.3 L404.9 396.1 L405.7 395.8 L406.5 395.5 L407.3 395.6 L408.1 395.3 L408.9 395.3 L409.7 395.2 L410.5 395.1 L411.3 394.9 L412.1 394.9 L412.9 394.6 L413.7 394.6 L414.5 393.9 L415.3 393.9 L416.1 393.4 L416.9 393.0 L417.7 392.1 L418.5 390.1 L419.3 387.5 L420.1 386.6 L420.9 381.7 L421.7 378.0 L422.5 371.0 L423.3 367.2 L424.1 362.2 L424.9 367.2 L425.7 370.5 L426.5 377.4 L427.3 381.7 L428.1 385.8 L428.9 386.8 L429.7 389.1 L430.5 389.5 L431.3 390.6 L432.1 390.6 L432.9 390.6 L433.7 390.8 L434.5 391.4 L435.3 391.4 L436.1 392.0 L436.9 391.9 L437.7 392.1 L438.5 391.9 L439.3 392.4 L440.1 392.5 L440.9 392.4 L441.7 392.5 L442.5 392.3 L443.3 392.7 L444.1 393.0 L444.9 393.5 L445.7 393.8 L446.5 393.7 L447.3 394.5 L448.1 395.0 L448.9 395.2 L449.7 396.0 L450.5 396.2 L451.3 396.3 L452.1 396.4 L452.9 396.3 L453.7 396.3 L454.5 396.5 L455.3 396.5 L456.1 396.6 L456.9 396.7 L457.7 396.7 L458.5 396.8 L459.3 396.8 L459.5 397.1Z" fill="#5c5c5c" stroke="#3a3a3a" stroke-width="0.5" stroke-linejoin="round"/>
<path d="M401.8 355.6V397.1" stroke="#505050" stroke-width="0.8" fill="none"/>
<path d="M401.40000000000003 397.1H459.8" stroke="#2e2e2e" stroke-width="1.1" fill="none"/>
<path d="M400.40000000000003 355.6h1.4" stroke="#555" stroke-width="0.45"/>
<path d="M400.40000000000003 359.1h1.4" stroke="#555" stroke-width="0.45"/>
<path d="M400.40000000000003 362.5h1.4" stroke="#555" stroke-width="0.45"/>
<path d="M400.40000000000003 366.0h1.4" stroke="#555" stroke-width="0.45"/>
<path d="M400.40000000000003 369.4h1.4" stroke="#555" stroke-width="0.45"/>
<path d="M400.40000000000003 372.9h1.4" stroke="#555" stroke-width="0.45"/>
<path d="M400.40000000000003 376.4h1.4" stroke="#555" stroke-width="0.45"/>
<path d="M400.40000000000003 379.8h1.4" stroke="#555" stroke-width="0.45"/>
<path d="M400.40000000000003 383.3h1.4" stroke="#555" stroke-width="0.45"/>
<path d="M400.40000000000003 386.7h1.4" stroke="#555" stroke-width="0.45"/>
<path d="M400.40000000000003 390.2h1.4" stroke="#555" stroke-width="0.45"/>
<path d="M400.40000000000003 393.6h1.4" stroke="#555" stroke-width="0.45"/>
<path d="M415.3 397.1v1.2" stroke="#555" stroke-width="0.5"/>
<path d="M428.8 397.1v1.2" stroke="#555" stroke-width="0.5"/>
<path d="M442.3 397.1v1.2" stroke="#555" stroke-width="0.5"/>
<path d="M455.8 397.1v1.2" stroke="#555" stroke-width="0.5"/>
<text transform="translate(265.6,407.1) rotate(-90) scale(1.03,1)" font-size="10">Cell Number</text>
<path d="M270.8 394.8V363" stroke="#111" stroke-width="0.9"/>
<path d="M270.8 356.4L273.90000000000003 366.2L270.8 364L267.7 366.2Z" fill="#000"/>
<text x="288.8" y="408.6" font-size="10.3">DNA Content</text>
<text transform="translate(387.0,407.1) rotate(-90) scale(1.03,1)" font-size="10">Cell Number</text>
<path d="M394.2 398V367.8" stroke="#111" stroke-width="0.9"/>
<path d="M394.2 361.2L397.3 371.0L394.2 368.8L391.09999999999997 371.0Z" fill="#000"/>
<text x="407.2" y="408.6" font-size="10.3">DNA Content</text>
</g>
</svg></body></html>
